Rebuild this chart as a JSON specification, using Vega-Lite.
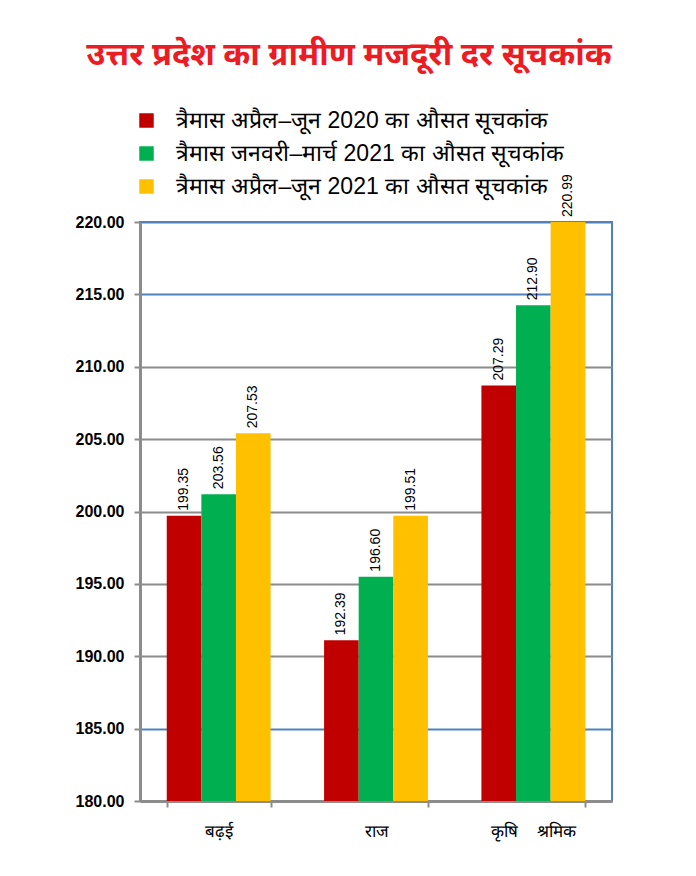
{
  "$schema": "https://vega.github.io/schema/vega-lite/v6.json",
  "width": 472,
  "height": 579,
  "autosize": {"type": "none"},
  "padding": {"left": 140, "top": 222, "right": 84, "bottom": 75},
  "background": "white",
  "title": {
    "text": "उत्तर प्रदेश का ग्रामीण मजदूरी दर सूचकांक",
    "color": "#ed1c24",
    "fontSize": 32.5,
    "fontWeight": "bold",
    "font": "Noto Sans",
    "anchor": "middle",
    "frame": "group",
    "dx": -27,
    "dy": -34
  },
  "data": {
    "values": [
      {"cat": "बढ़ई", "series": "त्रैमास अप्रैल–जून 2020 का औसत सूचकांक", "value": 199.7, "label": "199.35"},
      {"cat": "बढ़ई", "series": "त्रैमास जनवरी–मार्च 2021 का औसत सूचकांक", "value": 201.2, "label": "203.56"},
      {"cat": "बढ़ई", "series": "त्रैमास अप्रैल–जून 2021 का औसत सूचकांक", "value": 205.4, "label": "207.53"},
      {"cat": "राज", "series": "त्रैमास अप्रैल–जून 2020 का औसत सूचकांक", "value": 191.1, "label": "192.39"},
      {"cat": "राज", "series": "त्रैमास जनवरी–मार्च 2021 का औसत सूचकांक", "value": 195.5, "label": "196.60"},
      {"cat": "राज", "series": "त्रैमास अप्रैल–जून 2021 का औसत सूचकांक", "value": 199.7, "label": "199.51"},
      {"cat": "कृषि\u00a0\u00a0\u00a0\u00a0श्रमिक", "series": "त्रैमास अप्रैल–जून 2020 का औसत सूचकांक", "value": 208.7, "label": "207.29"},
      {"cat": "कृषि\u00a0\u00a0\u00a0\u00a0श्रमिक", "series": "त्रैमास जनवरी–मार्च 2021 का औसत सूचकांक", "value": 214.25, "label": "212.90"},
      {"cat": "कृषि\u00a0\u00a0\u00a0\u00a0श्रमिक", "series": "त्रैमास अप्रैल–जून 2021 का औसत सूचकांक", "value": 220.99, "label": "220.99"}
    ]
  },
  "encoding": {
    "x": {
      "field": "cat",
      "type": "nominal",
      "sort": ["बढ़ई", "राज", "कृषि\u00a0\u00a0\u00a0\u00a0श्रमिक"],
      "scale": {"paddingInner": 0.34, "paddingOuter": 0.17},
      "axis": {
        "title": null,
        "labelAngle": 0,
        "labelFontSize": 17,
        "labelColor": "#000000",
        "labelPadding": 16,
        "labelDx": 10,
        "tickBand": "extent",
        "tickSize": 6,
        "tickWidth": 2,
        "tickColor": "#8c8c8c",
        "domainColor": "#8c8c8c",
        "domainWidth": 3,
        "grid": false
      }
    },
    "xOffset": {
      "field": "series",
      "type": "nominal",
      "sort": ["त्रैमास अप्रैल–जून 2020 का औसत सूचकांक", "त्रैमास जनवरी–मार्च 2021 का औसत सूचकांक", "त्रैमास अप्रैल–जून 2021 का औसत सूचकांक"],
      "scale": {"paddingInner": 0, "paddingOuter": 0}
    },
    "y": {
      "field": "value",
      "type": "quantitative",
      "scale": {"domain": [180, 220], "clamp": true, "nice": false, "zero": false},
      "axis": {
        "title": null,
        "values": [180, 185, 190, 195, 200, 205, 210, 215, 220],
        "format": ".2f",
        "labelFontSize": 16,
        "labelFontWeight": "bold",
        "labelColor": "#000000",
        "labelPadding": 10,
        "tickSize": 6,
        "tickWidth": 2,
        "tickColor": "#8c8c8c",
        "domainColor": "#8c8c8c",
        "domainWidth": 3,
        "grid": true,
        "gridWidth": 2,
        "gridColor": {
          "condition": {"test": "datum.value === 185 || datum.value === 215 || datum.value === 220", "value": "#4f81bd"},
          "value": "#8c8c8c"
        }
      }
    }
  },
  "layer": [
    {
      "mark": {"type": "bar"},
      "encoding": {
        "color": {
          "field": "series",
          "type": "nominal",
          "scale": {
            "domain": ["त्रैमास अप्रैल–जून 2020 का औसत सूचकांक", "त्रैमास जनवरी–मार्च 2021 का औसत सूचकांक", "त्रैमास अप्रैल–जून 2021 का औसत सूचकांक"],
            "range": ["#c00000", "#00b050", "#ffc000"]
          },
          "legend": {
            "title": null,
            "orient": "none",
            "legendX": -5,
            "legendY": -113,
            "symbolType": "square",
            "symbolSize": 210,
            "symbolStrokeWidth": 0,
            "labelFontSize": 23,
            "labelColor": "#000000",
            "labelLimit": 600,
            "labelOffset": 18,
            "rowPadding": 9
          }
        }
      }
    },
    {
      "mark": {"type": "text", "angle": 270, "align": "left", "baseline": "middle", "dx": 5, "fontSize": 14, "color": "#000000"},
      "encoding": {
        "text": {"field": "label", "type": "nominal"}
      }
    }
  ],
  "config": {
    "view": {"stroke": "#4f81bd", "strokeWidth": 2},
    "font": "Liberation Sans"
  }
}
